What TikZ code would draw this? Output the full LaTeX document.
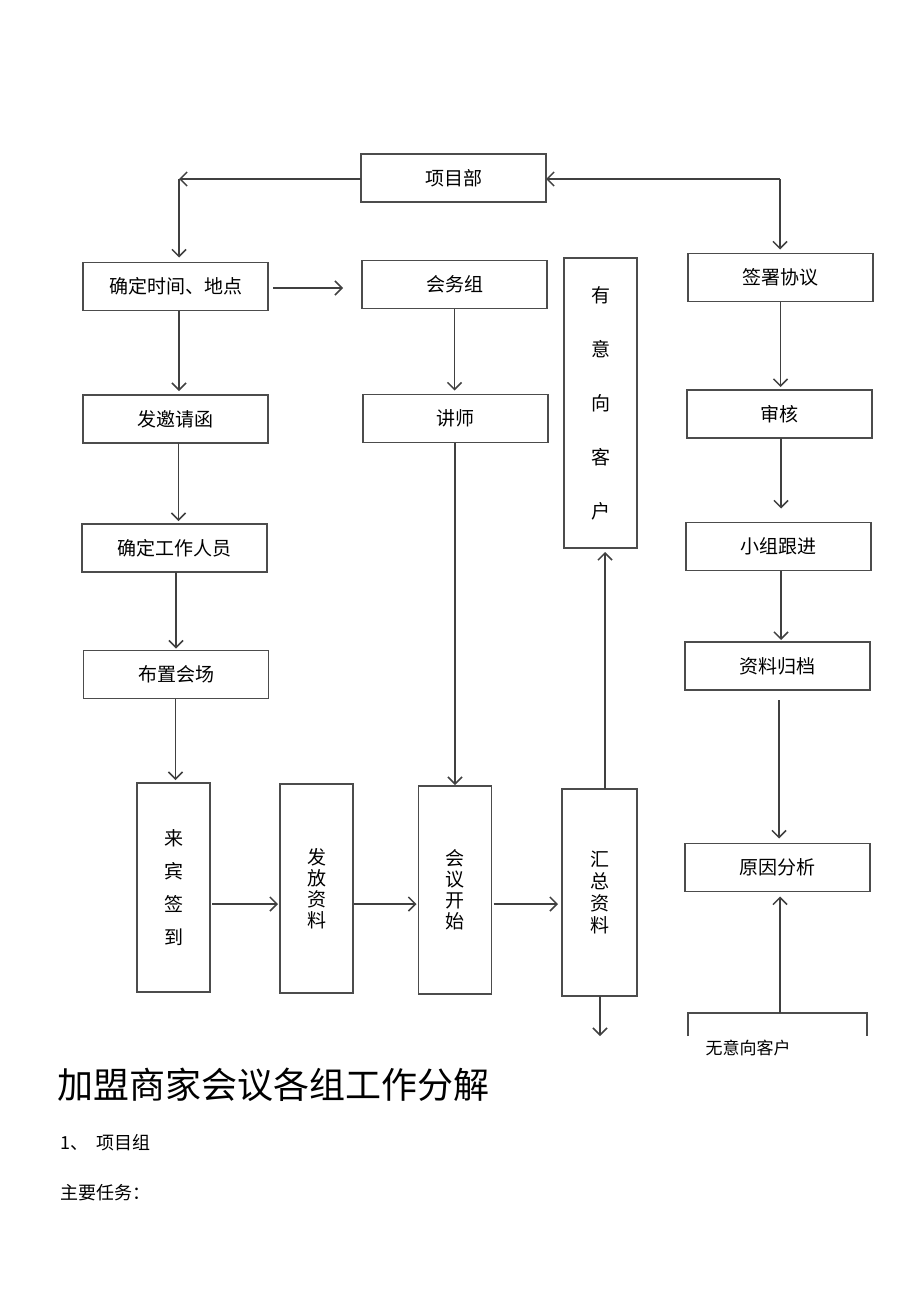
\documentclass[tikz,border=0pt]{standalone}
\usepackage{fontspec}
\newfontfamily\cjk{Noto Sans CJK SC}
\usetikzlibrary{arrows.meta}

\begin{document}
\begin{tikzpicture}[x=1pt, y=-1pt]

    % Define styles
    \tikzset{
        box/.style = {rectangle, draw=black!70, line width=1.3pt, outer sep=0pt, minimum width=185pt, minimum height=48pt, text centered, font=\cjk\fontsize{19}{21}\selectfont},
        vbox/.style = {box, minimum width=73pt, minimum height=208pt, align=center},
        arrow/.style = {draw=black!75, line width=1.6pt, -{Straight Barb[length=7pt, width=14pt, line width=1.5pt]}},
        plain/.style = {anchor=west, inner sep=0pt, font=\cjk\fontsize{18}{20}\selectfont}
    }
    \useasboundingbox (0,0) rectangle (920,1303);

    % Nodes
    \node (xmb) [box] at (453.5,178) {项目部};
    \node (time) [box] at (175.5,286.5) {确定时间、地点};
    \node (hwz) [box] at (454.5,284.5) {会务组};
    \node (yyx) [vbox, minimum height=290pt, font=\cjk\fontsize{19}{54}\selectfont] at (600.5,403) {有\\意\\向\\客\\户};
    \node (sign) [box] at (780.5,277.5) {签署协议};
    \node (fyq) [box] at (175.5,419) {发邀请函};
    \node (js) [box] at (455.5,418.5) {讲师};
    \node (sh) [box] at (779.5,414) {审核};
    \node (gzry) [box] at (174.5,548) {确定工作人员};
    \node (xz) [box] at (778.5,546.5) {小组跟进};
    \node (bz) [box] at (176,674.5) {布置会场};
    \node (gd) [box] at (777.5,666) {资料归档};
    \node (lb) [vbox, minimum height=209pt, font=\cjk\fontsize{19}{33}\selectfont] at (173.5,887.5) {来\\宾\\签\\到};
    \node (ff) [vbox, minimum height=209pt, font=\cjk\fontsize{19}{21}\selectfont] at (316.5,888.5) {发\\放\\资\\料};
    \node (hy) [vbox, font=\cjk\fontsize{19}{21}\selectfont] at (455,890) {会\\议\\开\\始};
    \node (hz) [vbox, minimum width=75pt, minimum height=207pt, font=\cjk\fontsize{19}{22}\selectfont] at (599.5,892.5) {汇\\总\\资\\料};
    \node (yy) [box] at (777.5,867.5) {原因分析};
    \node (wyxt) [anchor=center, inner sep=0pt, font=\cjk\fontsize{17}{19}\selectfont] at (748,1048) {无意向客户};

    % Corners and loose ends
    \coordinate (tl) at (179,179);
    \coordinate (tr) at (780,179);
    \coordinate (hzend) at (600,1036);
    \coordinate (wyx) at (780,1013);

    % Open box at page foot
    \draw [draw=black!70, line width=1.3pt] (688,1036) |- (867,1013) -- (867,1036);

    % Arrows
    \draw [arrow] (xmb.west |- tl) -- (tl);
    \draw [arrow] (tl) -- (tl |- time.north) [shorten >=5pt];
    \draw [arrow] (tr) -- (tr -| xmb.east);
    \draw [arrow] (tr) -- (tr |- sign.north) [shorten >=4pt];
    \draw [arrow] ([yshift=-1.5pt]time.east) -- ([yshift=-1.5pt]time.east -| hwz.west) [shorten <=5pt, shorten >=19pt];
    \draw [arrow] ([xshift=3.5pt]time.south) -- ([xshift=3.5pt]time.south |- fyq.north) [shorten >=4pt];
    \draw [arrow] ([xshift=3pt]fyq.south) -- ([xshift=3pt]fyq.south |- gzry.north) [shorten >=3pt];
    \draw [arrow] ([xshift=1.5pt]gzry.south) -- ([xshift=1.5pt]gzry.south |- bz.north) [shorten >=2pt];
    \draw [arrow] ([xshift=-0.5pt]bz.south) -- ([xshift=-0.5pt]bz.south |- lb.north) [shorten >=3pt];
    \draw [arrow] (hwz.south) -- (hwz.south |- js.north) [shorten >=4pt];
    \draw [arrow] ([xshift=-0.5pt]js.south) -- ([xshift=-0.5pt]js.south |- hy.north) [shorten >=1pt];
    \draw [arrow] ([yshift=-16.5pt]lb.east) -- ([yshift=-16.5pt]lb.east -| ff.west) [shorten <=2pt, shorten >=2pt];
    \draw [arrow] ([yshift=-15.5pt]ff.east) -- ([yshift=-15.5pt]ff.east -| hy.west) [shorten <=1pt, shorten >=2pt];
    \draw [arrow] ([yshift=-14pt]hy.east) -- ([yshift=-14pt]hy.east -| hz.west) [shorten <=2pt, shorten >=4pt];
    \draw [arrow] ([xshift=5.5pt]hz.north) -- ([xshift=5.5pt]hz.north |- yyx.south) [shorten >=4pt];
    \draw [arrow] (hz.south -| hzend) -- (hzend);
    \draw [arrow] (sign.south) -- (sign.south |- sh.north) [shorten >=3pt];
    \draw [arrow] ([xshift=1.5pt]sh.south) -- ([xshift=1.5pt]sh.south |- xz.north) [shorten >=14pt];
    \draw [arrow] ([xshift=2.5pt]xz.south) -- ([xshift=2.5pt]xz.south |- gd.north) [shorten >=2pt];
    \draw [arrow] ([xshift=1.5pt, yshift=-10pt]gd.south) -- ([xshift=1.5pt]gd.south |- yy.north) [shorten >=5pt];
    \draw [arrow] (wyx) -- (wyx |- yy.south) [shorten >=5pt];

    % Text below the chart
    \node (title) [plain, font=\cjk\fontsize{36}{40}\selectfont] at (57,1085) {加盟商家会议各组工作分解};
    \node (grp) [plain] at (60,1143) {1、\ \ 项目组};
    \node (task) [plain] at (60,1193) {主要任务：};
\end{tikzpicture}
\end{document}
